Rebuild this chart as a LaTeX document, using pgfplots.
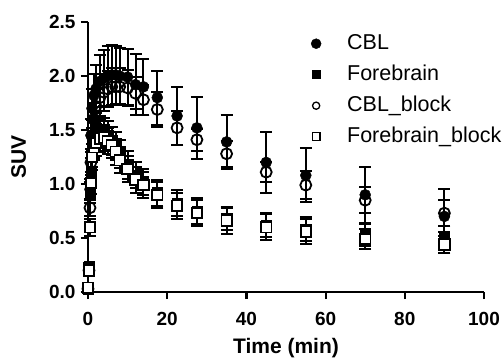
\documentclass[border=0pt]{standalone}
\usepackage{fontspec}
\setmainfont{Liberation Sans}
\usepackage{pgfplots}
\usepackage{pgfplotstable}
\pgfplotsset{compat=1.18}

\pgfplotstableread{
t y e
0 0.03 0.01
0.25 0.22 0.03
0.5 0.95 0.10
0.75 1.45 0.15
1 1.70 0.18
1.5 1.82 0.20
2 1.88 0.22
3 1.95 0.24
4 1.98 0.26
5 2.00 0.28
6 2.01 0.28
7 2.01 0.27
8 2.00 0.26
10 1.99 0.26
12 1.92 0.28
14 1.90 0.26
17.5 1.80 0.25
22.5 1.63 0.27
27.5 1.52 0.29
35 1.39 0.25
45 1.20 0.28
55 1.08 0.25
70 0.90 0.26
90 0.70 0.25
}\cbl

\pgfplotstableread{
t y e
0 0.03 0.01
0.25 0.24 0.03
0.5 0.92 0.10
0.75 1.12 0.12
1 1.30 0.14
1.5 1.38 0.14
2 1.44 0.14
3 1.47 0.13
4 1.48 0.13
5 1.45 0.13
6 1.40 0.13
7 1.35 0.13
8 1.28 0.13
10 1.18 0.13
12 1.08 0.12
14 1.02 0.12
17.5 0.92 0.12
22.5 0.82 0.12
27.5 0.75 0.12
35 0.68 0.11
45 0.62 0.11
55 0.58 0.11
70 0.53 0.10
90 0.50 0.06
}\fore

\pgfplotstableread{
t y e
0 0.03 0.01
0.25 0.20 0.03
0.5 0.78 0.08
0.75 1.20 0.12
1 1.45 0.14
1.5 1.60 0.15
2 1.72 0.16
3 1.80 0.17
4 1.85 0.17
5 1.88 0.17
6 1.90 0.17
7 1.90 0.17
8 1.90 0.17
10 1.89 0.17
12 1.84 0.15
14 1.78 0.14
17.5 1.69 0.16
22.5 1.52 0.16
27.5 1.41 0.10
35 1.28 0.12
45 1.11 0.09
55 0.99 0.13
70 0.85 0.12
90 0.73 0.12
}\cblblock

\pgfplotstableread{
t y e
0 0.04 0.01
0.25 0.20 0.03
0.5 0.60 0.08
0.75 1.01 0.10
1 1.25 0.12
1.5 1.34 0.12
2 1.38 0.12
3 1.42 0.12
4 1.43 0.12
5 1.40 0.12
6 1.36 0.12
7 1.30 0.12
8 1.22 0.12
10 1.14 0.12
12 1.04 0.12
14 0.99 0.12
17.5 0.90 0.12
22.5 0.80 0.12
27.5 0.73 0.12
35 0.66 0.12
45 0.60 0.12
55 0.56 0.12
70 0.49 0.09
90 0.44 0.08
}\foreblock

\begin{document}
\begin{tikzpicture}
\begin{axis}[
  scale only axis,
  width=396pt, height=270pt,
  xmin=0, xmax=100, ymin=0, ymax=2.5,
  clip=false,
  axis lines*=left,
  axis line style={line width=2.6pt, -},
  xtick={0,20,...,100},
  ytick={0,0.5,...,2.5},
  tick align=outside,
  major tick length=7pt,
  tick style={line width=2.2pt, black},
  yticklabel style={xshift=-2pt, /pgf/number format/.cd, fixed, fixed zerofill, precision=1},
  /pgf/number format/assume math mode=true,
  tick label style={font=\fontsize{19}{19}\selectfont\bfseries},
  xticklabel style={yshift=-10pt},
  xlabel={Time (min)},
  ylabel={SUV},
  label style={font=\fontsize{21}{21}\selectfont\bfseries},
  xlabel style={yshift=-5pt},
  ylabel style={yshift=16pt},
  legend style={draw=none, fill=none, at={(0.563,0.963)}, anchor=north west,
    font=\fontsize{21.5}{21.5}\selectfont, row sep=8pt, column sep=25pt, inner sep=0pt,
    nodes={inner sep=1pt, text height=16pt, text depth=5pt}},
  legend cell align=left,
  every axis plot/.append style={only marks, black},
]
\pgfplotsset{myerr/.style={
    error bars/y dir=both, error bars/y explicit,
    error bars/error bar style={line width=2pt, black},
    error bars/error mark options={rotate=90, mark size=6pt, line width=2pt, black}}}
\addplot[myerr, mark=*, mark size=5.5pt, mark options={fill=black},
  legend image post style={mark size=5pt}]
  table[x=t, y=y, y error=e] {\cbl};
\addlegendentry{CBL}
\addplot[myerr, mark=square*, mark size=5.2pt, mark options={fill=black},
  legend image post style={mark size=4pt}]
  table[x=t, y=y, y error=e] {\fore};
\addlegendentry{Forebrain}
\addplot[myerr, mark=o, mark size=5.5pt, mark options={fill=white, line width=1.8pt},
  legend image post style={mark size=3.6pt, mark options={fill=white, line width=1.3pt}}]
  table[x=t, y=y, y error=e] {\cblblock};
\addlegendentry{CBL\_block}
\addplot[myerr, mark=square*, mark size=5.2pt, mark options={fill=white, line width=1.8pt},
  legend image post style={mark size=3.9pt, mark options={fill=white, line width=1.3pt}}]
  table[x=t, y=y, y error=e] {\foreblock};
\addlegendentry{Forebrain\_block}
\end{axis}
\pgfresetboundingbox
\path (current axis.south west) ++(-88pt,-68pt) rectangle ++(503pt,360pt);
\end{tikzpicture}
\end{document}
